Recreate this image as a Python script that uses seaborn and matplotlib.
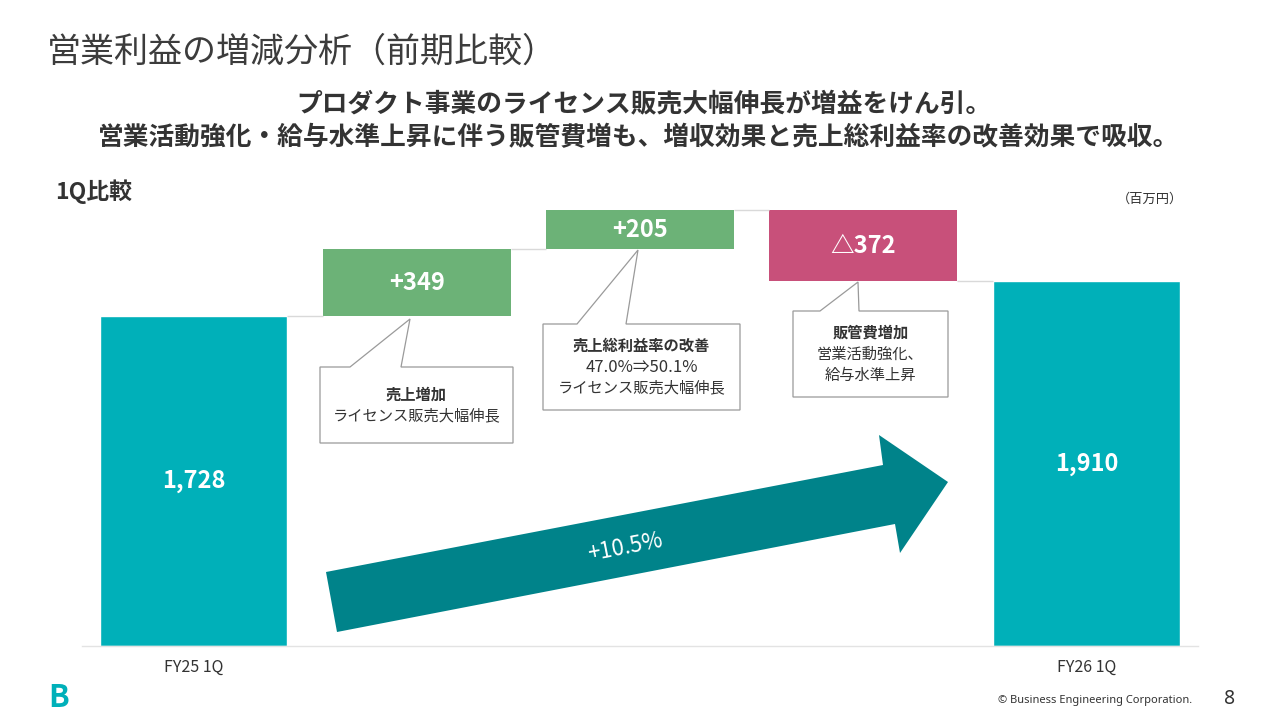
import numpy as np
import pandas as pd
import matplotlib
matplotlib.use("Agg")
import matplotlib.pyplot as plt
from matplotlib.patches import Polygon
import seaborn as sns

# ---------------- data ----------------
categories = ["FY25 1Q", "売上増加", "売上総利益率の改善", "販管費増加", "FY26 1Q"]
tick_labels = ["FY25 1Q", "", "", "", "FY26 1Q"]
start_value = 1728
deltas = [349, 205, -372]
end_value = 1910
delta_labels = ["+349", "+205", "△372"]
total_labels = ["1,728", "1,910"]
growth_label = "+10.5%"

callout_titles = ["売上増加", "売上総利益率の改善", "販管費増加"]
callout_bodies = [["ライセンス販売大幅伸長"],
                  ["47.0%⇒50.1%", "ライセンス販売大幅伸長"],
                  ["営業活動強化、", "給与水準上昇"]]

TEAL = "#00B0B9"
GREEN = "#6CB277"
PINK = "#C8507A"
ARROW = "#00838A"
TXT = "#333333"

sns.set_theme(style="white")
plt.rcParams["font.family"] = ["Noto Sans CJK JP", "DejaVu Sans"]

W, H = 1280, 720
fig = plt.figure(figsize=(12.8, 7.2), dpi=100)


def fx(x):
    return x / W


def fy(y):
    return 1 - y / H


# axes placement
ax = fig.add_axes([fx(82), fy(646), fx(1198) - fx(82), fy(180) - fy(646)])

totals = pd.DataFrame({"category": [categories[0], categories[-1]],
                       "value": [start_value, end_value]})
sns.barplot(data=totals, x="category", y="value", order=categories,
            color=TEAL, width=0.84, saturation=1, ax=ax)

# floating bars
levels = [start_value]
for d in deltas:
    levels.append(levels[-1] + d)
bottoms = [min(levels[i], levels[i + 1]) for i in range(len(deltas))]
heights = [abs(d) for d in deltas]
colors = [GREEN if d > 0 else PINK for d in deltas]
xpos = np.arange(1, 1 + len(deltas))
ax.bar(xpos, heights, bottom=bottoms, width=0.84, color=colors, linewidth=0)

# connectors
for i, lv in enumerate(levels):
    ax.hlines(lv, i + 0.42, i + 1 - 0.42, color="#d9d9d9", lw=1)

ax.set_xlim(-0.5, 4.5)
ax.set_ylim(0, 2440)
ax.set_xlabel("")
ax.set_ylabel("")
ax.set_yticks([])
ax.set_xticks(range(len(categories)))
ax.set_xticklabels(tick_labels, fontsize=11.5, color=TXT)
ax.tick_params(axis="x", length=0, pad=9)
for s in ["top", "left", "right"]:
    ax.spines[s].set_visible(False)
ax.spines["bottom"].set_color("#e3e3e3")
ax.spines["bottom"].set_linewidth(1)

# value labels
ax.text(0, start_value / 2, total_labels[0], ha="center", va="center",
        color="white", fontsize=17, fontweight="bold")
ax.text(4, end_value / 2, total_labels[1], ha="center", va="center",
        color="white", fontsize=17, fontweight="bold")
for i, (b, h, lab) in enumerate(zip(bottoms, heights, delta_labels)):
    ax.text(i + 1, b + h / 2, lab, ha="center", va="center",
            color="white", fontsize=17, fontweight="bold")

# ---------------- titles ----------------
fig.text(fx(47), fy(52), "営業利益の増減分析（前期比較）", fontsize=24.5,
         color="#3c3c3c", va="center", ha="left")
fig.text(fx(644), fy(104), "プロダクト事業のライセンス販売大幅伸長が増益をけん引。",
         fontsize=18.5, fontweight="bold", color=TXT, ha="center", va="center")
fig.text(fx(639), fy(138),
         "営業活動強化・給与水準上昇に伴う販管費増も、増収効果と売上総利益率の改善効果で吸収。",
         fontsize=18.5, fontweight="bold", color=TXT, ha="center", va="center")
fig.text(fx(55), fy(192), "1Q比較", fontsize=16.5, fontweight="bold",
         color=TXT, ha="left", va="center")
fig.text(fx(1183), fy(199), "（百万円）", fontsize=9.5, color=TXT,
         ha="right", va="center")

# ---------------- callouts ----------------
callouts = [
    # box (l, t, r, b), tail (left base x, apex x, apex y, right base x)
    ((320, 367, 513, 443), (350, 410, 319, 401)),
    ((543, 324, 740, 410), (577, 638, 250, 626)),
    ((793, 311, 948, 397), (820, 858, 282, 859)),
]
for k, ((l, t, r, b), (tl, ax_, ay_, tr)) in enumerate(callouts):
    pts = [(l, t), (tl, t), (ax_, ay_), (tr, t), (r, t), (r, b), (l, b)]
    poly = Polygon([(fx(x), fy(y)) for x, y in pts], closed=True,
                   transform=fig.transFigure, facecolor="white",
                   edgecolor="#9a9a9a", linewidth=0.9, zorder=5)
    fig.patches.append(poly)
    lines = [callout_titles[k]] + callout_bodies[k]
    n = len(lines)
    cx = (l + r) / 2
    cy = (t + b) / 2
    step = 21
    y0 = cy - step * (n - 1) / 2
    for j, line in enumerate(lines):
        is_pct = "%" in line
        fig.text(fx(cx), fy(y0 + j * step), line,
                 fontsize=12 if is_pct else 11,
                 fontweight="bold" if j == 0 else "normal",
                 color=TXT, ha="center", va="center", zorder=6)

# ---------------- growth arrow ----------------
arrow_pts = [(326, 572), (883, 465), (879, 435), (948, 482),
             (900, 553), (895, 524), (337, 632)]
arrow = Polygon([(fx(x), fy(y)) for x, y in arrow_pts], closed=True,
                transform=fig.transFigure, facecolor=ARROW, edgecolor="none",
                zorder=5)
fig.patches.append(arrow)
fig.text(fx(625), fy(547), growth_label, fontsize=16, color="white",
         rotation=11, ha="center", va="center", zorder=6)

# ---------------- footer ----------------
fig.text(fx(59), fy(698), "B", fontsize=22, fontweight="bold", color=TEAL,
         ha="center", va="center")
fig.text(fx(1192), fy(700), "© Business Engineering Corporation.",
         fontsize=8, color=TXT, ha="right", va="center",
         family=["Noto Sans", "DejaVu Sans"])
fig.text(fx(1230), fy(699), "8", fontsize=14, color=TXT,
         ha="center", va="center", family=["Noto Sans", "DejaVu Sans"])

fig.savefig("out.png", dpi=100, facecolor="white")
